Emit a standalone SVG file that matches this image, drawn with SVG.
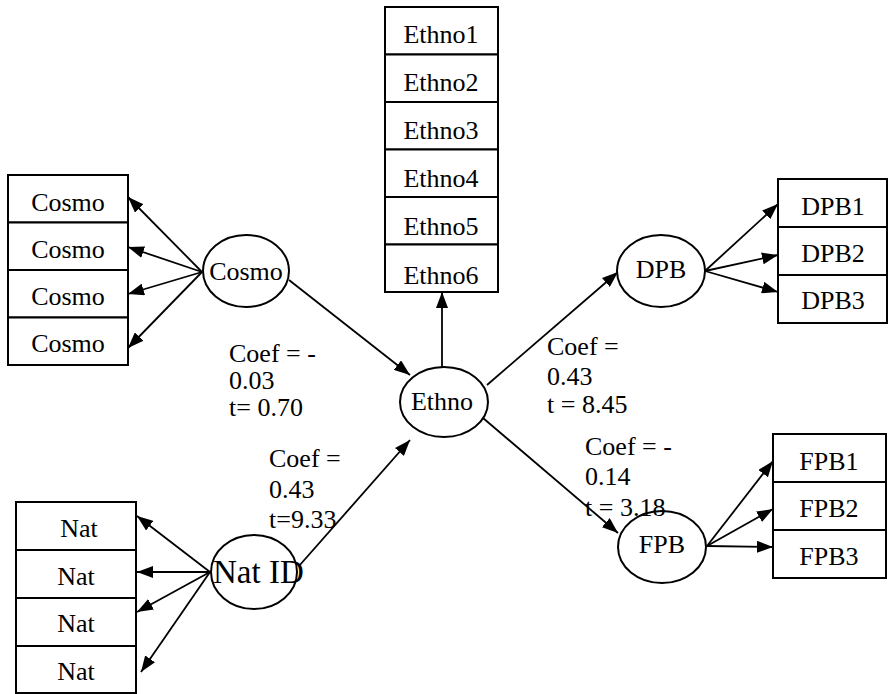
<svg xmlns="http://www.w3.org/2000/svg" width="889" height="694" viewBox="0 0 889 694">
<style>
rect{fill:#fff;stroke:#000;stroke-width:2}
ellipse{fill:#fff;stroke:#000;stroke-width:2}
.c{text-anchor:middle}
.e line{stroke:#000;stroke-width:1.8;marker-end:url(#ah)}
</style>
<defs>
<marker id="ah" viewBox="0 0 16 12" refX="16" refY="6" markerWidth="16" markerHeight="12" markerUnits="userSpaceOnUse" orient="auto">
<path d="M0,0 L16,6 L0,12 z" fill="#000"/>
</marker>
</defs>
<g class="e" id="connectors">
<line x1="202" y1="272" x2="128" y2="197"/>
<line x1="202" y1="272" x2="128" y2="247"/>
<line x1="202" y1="272" x2="128" y2="294"/>
<line x1="202" y1="272" x2="128" y2="348"/>
<line x1="289" y1="280" x2="410" y2="375"/>
<line x1="442" y1="367" x2="442" y2="292"/>
<line x1="487" y1="385" x2="618" y2="272"/>
<line x1="705" y1="271" x2="778" y2="204"/>
<line x1="705" y1="271" x2="778" y2="255"/>
<line x1="705" y1="271" x2="778" y2="292"/>
<line x1="483" y1="418" x2="618" y2="533"/>
<line x1="707" y1="546" x2="773" y2="461"/>
<line x1="707" y1="546" x2="773" y2="509"/>
<line x1="707" y1="546" x2="773" y2="547"/>
<line x1="210" y1="572" x2="137" y2="516"/>
<line x1="210" y1="572" x2="137" y2="572"/>
<line x1="210" y1="572" x2="137" y2="612"/>
<line x1="210" y1="572" x2="141" y2="672"/>
<line x1="299" y1="566" x2="410" y2="440"/>
</g>
<g font-family="'Liberation Serif', 'Times New Roman', 'DejaVu Serif', serif" font-size="26" fill="#000">
<g id="cosmo-items">
<rect x="8" y="175" width="120" height="47.5"/><text class="c" x="68" y="211">Cosmo</text>
<rect x="8" y="222.5" width="120" height="47.5"/><text class="c" x="68" y="258">Cosmo</text>
<rect x="8" y="270" width="120" height="47.5"/><text class="c" x="68" y="305">Cosmo</text>
<rect x="8" y="317.5" width="120" height="47.5"/><text class="c" x="68" y="352">Cosmo</text>
</g>
<g id="cosmo"><ellipse cx="246" cy="271" rx="43" ry="36"/><text class="c" x="246" y="280">Cosmo</text></g>
<g id="ethno-items">
<rect x="385" y="7" width="113" height="47.5"/><text class="c" x="441" y="43">Ethno1</text>
<rect x="385" y="54.5" width="113" height="47.5"/><text class="c" x="441" y="91">Ethno2</text>
<rect x="385" y="102" width="113" height="47.5"/><text class="c" x="441" y="139">Ethno3</text>
<rect x="385" y="149.5" width="113" height="47.5"/><text class="c" x="441" y="187">Ethno4</text>
<rect x="385" y="197" width="113" height="47.5"/><text class="c" x="441" y="235">Ethno5</text>
<rect x="385" y="244.5" width="113" height="47.5"/><text class="c" x="441" y="284">Ethno6</text>
</g>
<g id="ethno"><ellipse cx="444" cy="402" rx="44" ry="35"/><text class="c" x="442" y="410">Ethno</text></g>
<g id="dpb"><ellipse cx="661" cy="271" rx="44" ry="36"/><text class="c" x="661" y="278">DPB</text></g>
<g id="dpb-items">
<rect x="778" y="179" width="109" height="48"/><text class="c" x="833" y="215">DPB1</text>
<rect x="778" y="227" width="109" height="48"/><text class="c" x="833" y="262">DPB2</text>
<rect x="778" y="275" width="109" height="48"/><text class="c" x="833" y="309">DPB3</text>
</g>
<g id="fpb"><ellipse cx="662" cy="547" rx="44" ry="36"/><text class="c" x="662" y="553">FPB</text></g>
<g id="fpb-items">
<rect x="773" y="434" width="113" height="48"/><text class="c" x="829" y="470">FPB1</text>
<rect x="773" y="482" width="113" height="48"/><text class="c" x="829" y="517">FPB2</text>
<rect x="773" y="530" width="113" height="48"/><text class="c" x="829" y="565">FPB3</text>
</g>
<g id="nat-items">
<rect x="16" y="502" width="120" height="48"/><text class="c" x="79" y="537">Nat</text>
<rect x="16" y="550" width="120" height="48"/><text class="c" x="76" y="585">Nat</text>
<rect x="16" y="598" width="120" height="48"/><text class="c" x="76" y="632">Nat</text>
<rect x="16" y="646" width="120" height="47"/><text class="c" x="76" y="680">Nat</text>
</g>
<g id="natid"><ellipse cx="254" cy="572" rx="43" ry="37"/><text x="213" y="583" font-size="33">Nat ID</text></g>
<g id="labels">
<text x="229" y="362">Coef = -</text><text x="229" y="389">0.03</text><text x="229" y="416">t= 0.70</text>
<text x="269" y="467">Coef =</text><text x="269" y="498">0.43</text><text x="269" y="528">t=9.33</text>
<text x="547" y="355">Coef =</text><text x="547" y="385">0.43</text><text x="547" y="413">t = 8.45</text>
<text x="585" y="455">Coef = -</text><text x="585" y="485">0.14</text><text x="585" y="516">t = 3.18</text>
</g>
</g>
</svg>
